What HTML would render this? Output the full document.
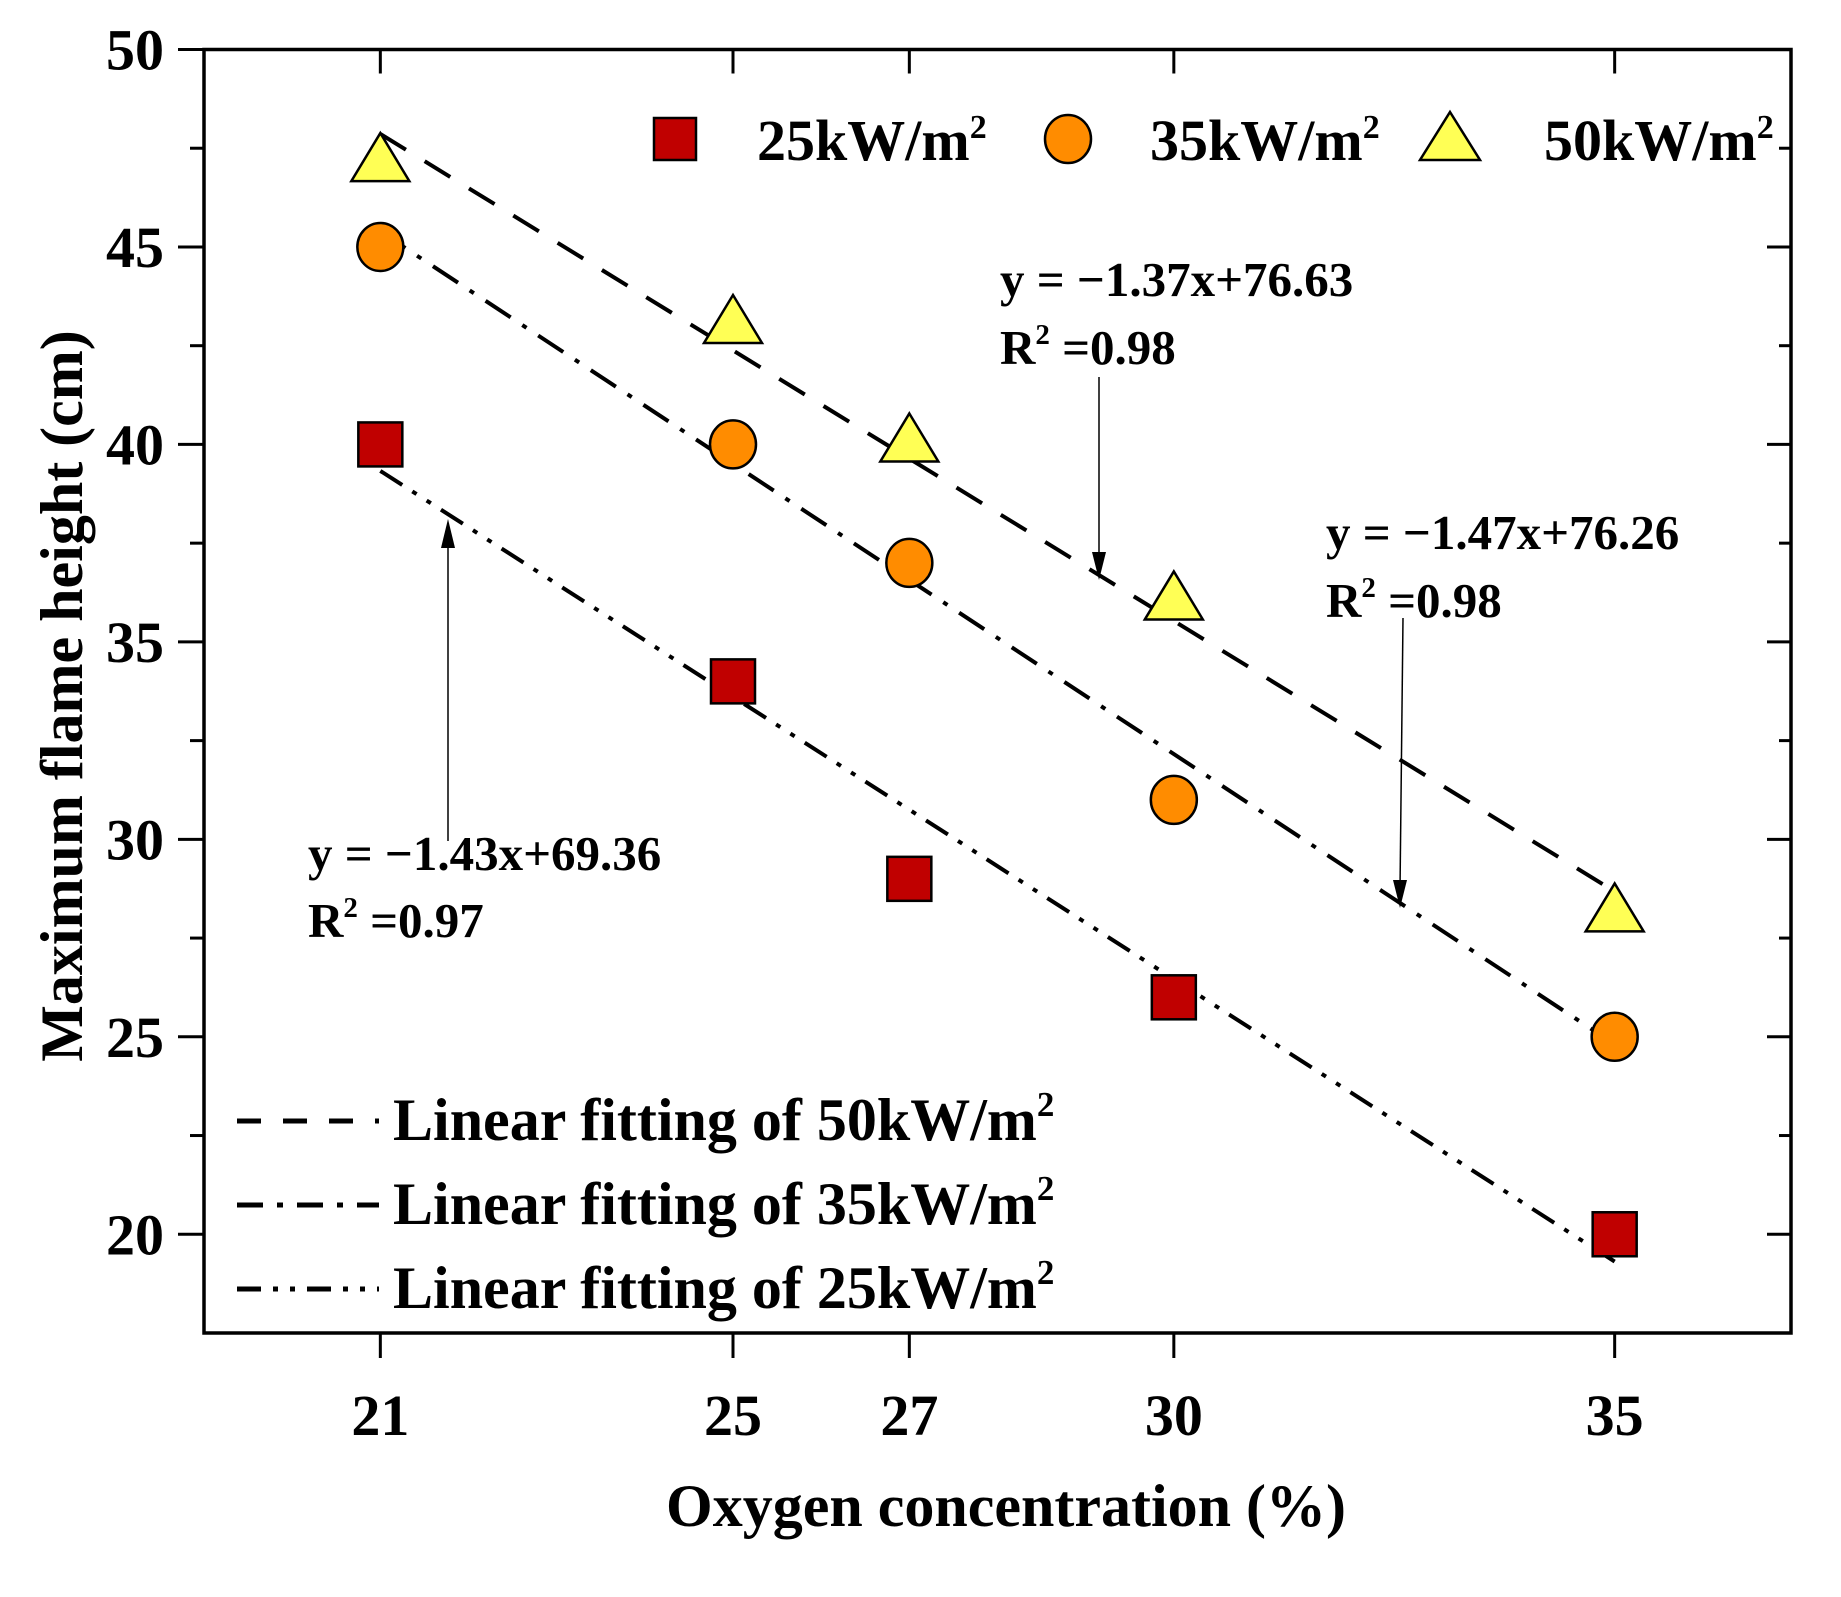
<!DOCTYPE html>
<html><head><meta charset="utf-8"><style>
html,body{margin:0;padding:0;background:#fff;}
svg{display:block;font-family:"Liberation Serif",serif;font-weight:bold;}
</style></head><body>
<svg id="c" width="1841" height="1597" viewBox="0 0 1841 1597">
<g font-size="58">
<rect x="654" y="118" width="42" height="42" fill="#c00000" stroke="#000" stroke-width="2.5"/>
<text x="757" y="160">25kW/m<tspan dy="-22" font-size="34">2</tspan></text>
<ellipse cx="1068" cy="139" rx="23" ry="24" fill="#ff8c00" stroke="#000" stroke-width="2.5"/>
<text x="1150" y="160">35kW/m<tspan dy="-22" font-size="34">2</tspan></text>
<polygon points="1450,112 1480,160 1420,160" fill="#ffff55" stroke="#000" stroke-width="2.5"/>
<text x="1544" y="160">50kW/m<tspan dy="-22" font-size="34">2</tspan></text>
</g>
<g font-size="60">
<line x1="237" y1="1121" x2="379" y2="1121" stroke="#000" stroke-width="5" stroke-dasharray="24 22"/>
<text x="393" y="1140">Linear fitting of 50kW/m<tspan dy="-24" font-size="35">2</tspan></text>
<line x1="237" y1="1205" x2="379" y2="1205" stroke="#000" stroke-width="5" stroke-dasharray="26 14 6 14"/>
<text x="393" y="1224">Linear fitting of 35kW/m<tspan dy="-24" font-size="35">2</tspan></text>
<line x1="237" y1="1289" x2="379" y2="1289" stroke="#000" stroke-width="5" stroke-dasharray="24 12 5 12 5 12"/>
<text x="393" y="1308">Linear fitting of 25kW/m<tspan dy="-24" font-size="35">2</tspan></text>
</g>
<g font-size="49">
<text x="1000" y="296">y = −1.37x+76.63</text>
<text x="1000" y="364">R<tspan dy="-20" font-size="29">2</tspan><tspan dy="20"> =0.98</tspan></text>
<line x1="1099" y1="377" x2="1099" y2="560" stroke="#000" stroke-width="1.5"/>
<polygon points="1092,552 1106,552 1099,580"/>
<text x="1326" y="549">y = −1.47x+76.26</text>
<text x="1326" y="617">R<tspan dy="-20" font-size="29">2</tspan><tspan dy="20"> =0.98</tspan></text>
<line x1="1403" y1="618" x2="1400" y2="890" stroke="#000" stroke-width="1.5"/>
<polygon points="1393,880 1407,880 1400,908"/>
<text x="308" y="870">y = −1.43x+69.36</text>
<text x="308" y="937">R<tspan dy="-20" font-size="29">2</tspan><tspan dy="20"> =0.97</tspan></text>
<line x1="448" y1="841" x2="448" y2="540" stroke="#000" stroke-width="1.5"/>
<polygon points="441,548 455,548 448,519"/>
</g>
<text x="1006" y="1526" font-size="60" text-anchor="middle">Oxygen concentration (%)</text>
<text transform="translate(82,696) rotate(-90)" font-size="60" text-anchor="middle">Maximum flame height (cm)</text>
</svg>
<script>
const xTicks=[21,25,27,30,35];
const yTicks=[20,25,30,35,40,45,50];
const yMinor=[22.5,27.5,32.5,37.5,42.5,47.5];
const xVals=[21,25,27,30,35];
const s25=[40,34,29,26,20];
const s35=[45,40,37,31,25];
const s50=[47.2,43.1,40.1,36.1,28.2];
const fit50=[-1.37,76.63];
const fit35=[-1.47,76.26];
const fit25=[-1.43,69.36];
const L=204,R=1791,T=49.5,B=1333;
const X=v=>L+(v-19)*(R-L)/18;
const Y=v=>T+(50-v)*(B-T)/32.5;
const svg=document.getElementById('c');
const NS='http://www.w3.org/2000/svg';
function mk(tag,attrs,parent){const e=document.createElementNS(NS,tag);for(const k in attrs)e.setAttribute(k,attrs[k]);(parent||svg).appendChild(e);return e;}
let f=mk('rect',{x:L,y:T,width:R-L,height:B-T,fill:'none',stroke:'#000','stroke-width':3.5});


xTicks.forEach(v=>{
 let t=mk('line',{x1:X(v),x2:X(v),y1:B,y2:B+25,stroke:'#000','stroke-width':3});
 
 
 let t2=mk('line',{x1:X(v),x2:X(v),y1:T,y2:T+24,stroke:'#000','stroke-width':3});
 
 
 let l=mk('text',{x:X(v),y:1435,'font-size':58,'text-anchor':'middle'});l.textContent=v;
 
 
});
yTicks.forEach(v=>{
 let t=mk('line',{x1:L-26,x2:L,y1:Y(v),y2:Y(v),stroke:'#000','stroke-width':3});
 
 
 let t2=mk('line',{x1:R-24,x2:R,y1:Y(v),y2:Y(v),stroke:'#000','stroke-width':3});
 
 
 let l=mk('text',{x:164,y:Y(v)+20,'font-size':58,'text-anchor':'end'});l.textContent=v;
 
 
});
yMinor.forEach(v=>{
 let t=mk('line',{x1:L-14,x2:L,y1:Y(v),y2:Y(v),stroke:'#000','stroke-width':3});
 
 
 let t2=mk('line',{x1:R-12,x2:R,y1:Y(v),y2:Y(v),stroke:'#000','stroke-width':3});
 
 
});
function fit(p,dash,name){let l=mk('line',{x1:X(21),y1:Y(p[0]*21+p[1]),x2:X(35),y2:Y(p[0]*35+p[1]),stroke:'#000','stroke-width':4,'stroke-dasharray':dash});
 
 }
fit(fit50,'30 22','fit-line-50');
fit(fit35,'30 14 5 14','fit-line-35');
fit(fit25,'26 12 5 12 5 12','fit-line-25');
function sq(cx,cy){return mk('rect',{x:cx-22,y:cy-22,width:44,height:44,fill:'#c00000',stroke:'#000','stroke-width':2.5});}
function ci(cx,cy){return mk('ellipse',{cx:cx,cy:cy,rx:23,ry:24,fill:'#ff8c00',stroke:'#000','stroke-width':2.5});}
function tr(cx,cy){return mk('polygon',{points:`${cx},${cy-27} ${cx+29},${cy+21} ${cx-29},${cy+21}`,fill:'#ffff55',stroke:'#000','stroke-width':2.5});}
xVals.forEach((x,i)=>{
 let a=sq(X(x),Y(s25[i]));
 
 
 let b=ci(X(x),Y(s35[i]));
 
 
 let c=tr(X(x),Y(s50[i]));
 
 
});
</script>
</body></html>
